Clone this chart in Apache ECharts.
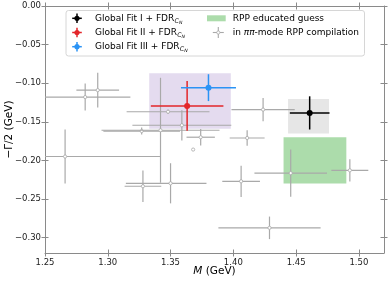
<!DOCTYPE html>
<html>
<head>
<meta charset="utf-8">
<script src="https://cdn.jsdelivr.net/npm/echarts@6/dist/echarts.min.js"></script>
<style>html,body{margin:0;padding:0;background:#fff}#c{width:389px;height:281px}</style>
</head>
<body>
<div id="c"></div>
<script>
// ---- tick labels ----
const xTicks = [1.25, 1.30, 1.35, 1.40, 1.45, 1.50];
const yTicks = [0, -0.05, -0.10, -0.15, -0.20, -0.25, -0.30];

// ---- RPP compilation (pi pi mode) points: M, -Gamma/2, errors ----
const grayM      = [1.282, 1.292, 1.348, 1.327, 1.342, 1.359, 1.266, 1.328, 1.350, 1.374, 1.411, 1.368, 1.4237, 1.4457, 1.4928, 1.4062, 1.4288];
const grayG      = [-0.118, -0.109, -0.137, -0.162, -0.161, -0.1545, -0.195, -0.2335, -0.2297, -0.170, -0.171, -0.186, -0.1342, -0.2165, -0.2129, -0.2271, -0.2874];
const grayMErrLo = [0.036, 0.017, 0.033, 0.0305, 0.047, 0.0394, 0.0756, 0.0146, 0.0356, 0.0113, 0.0139, 0, 0.0252, 0.0289, 0.0147, 0.015, 0.0407];
const grayMErrHi = [0.036, 0.017, 0.033, 0.0305, 0.047, 0.0394, 0.0756, 0.0146, 0.0286, 0.0113, 0.0139, 0, 0.0252, 0.0289, 0.0147, 0.015, 0.0407];
const grayGErr   = [0.0175, 0.0225, 0.003, 0.0045, 0.068, 0.0196, 0.035, 0.0205, 0.026, 0.0108, 0.0101, 0, 0.0151, 0.0305, 0.0145, 0.0202, 0.0146];

// ---- Global fits ----
const fitNames = ['Global Fit I + FDR', 'Global Fit II + FDR', 'Global Fit III + FDR'];
const fitM     = [1.4608, 1.3632, 1.3802];
const fitG     = [-0.1385, -0.1294, -0.1058];
const fitMErr  = [0.0158, 0.0289, 0.0219];
const fitGErr  = [0.0215, 0.0323, 0.0174];

// ---- shaded boxes: [Mmin, Mmax, Gmin, Gmax] ----
const boxMMin = [1.333, 1.4436, 1.44];
const boxMMax = [1.398, 1.4762, 1.49];
const boxGMin = [-0.159, -0.1652, -0.23];
const boxGMax = [-0.087, -0.1204, -0.17];

const FONT = 'DejaVu Sans';
const fitColors = ['#000000', '#e3262a', '#2b93f5'];
const boxColors = ['rgba(205,190,225,0.55)', '#e6e6e6', '#acdcab'];
const grayCol = '#a9a9a9';

const chart = echarts.init(document.getElementById('c'), null, {renderer: 'canvas'});

function fmt(v) {
  const s = Math.abs(v).toFixed(2);
  return v < -1e-9 ? '\u2212' + s : s;
}

const AXC = '#8a8a8a';
function xAx(pos, inside, main) {
  return {
    type: 'value', position: pos, min: 1.25, max: 1.52,
    axisLine: {show: !inside, onZero: false, lineStyle: {color: AXC, width: 1}},
    axisTick: {show: true, inside: inside, length: 3.5, customValues: xTicks, lineStyle: {color: AXC, width: 1}},
    axisLabel: {show: main, customValues: xTicks, formatter: fmt, fontSize: 8.5, fontFamily: FONT, color: '#222', margin: 5},
    splitLine: {show: false}
  };
}
function yAx(pos, inside, main) {
  return {
    type: 'value', position: pos, min: -0.32, max: 0,
    axisLine: {show: !inside, onZero: false, lineStyle: {color: AXC, width: 1}},
    axisTick: {show: true, inside: inside, length: 3.5, customValues: yTicks, lineStyle: {color: AXC, width: 1}},
    axisLabel: {show: main, customValues: yTicks, formatter: fmt, fontSize: 8.5, fontFamily: FONT, color: '#222', margin: 4},
    splitLine: {show: false}
  };
}

function clampX(v, cs) { return Math.max(cs.x, Math.min(cs.x + cs.width, v)); }
function clampY(v, cs) { return Math.max(cs.y, Math.min(cs.y + cs.height, v)); }

function errRender(color, lw, r, filled) {
  return function (params, api) {
    const cs = params.coordSys;
    const x = api.value(0), y = api.value(1);
    const xl = api.value(2), xh = api.value(3), ye = api.value(4);
    const c = api.coord([x, y]);
    const l = api.coord([x - xl, y]), rr = api.coord([x + xh, y]);
    const t = api.coord([x, y + ye]), b = api.coord([x, y - ye]);
    const ch = [];
    if (xl + xh > 0) ch.push({type: 'line', shape: {x1: clampX(l[0], cs), y1: c[1], x2: clampX(rr[0], cs), y2: c[1]}, style: {stroke: color, lineWidth: lw}});
    if (ye > 0) ch.push({type: 'line', shape: {x1: c[0], y1: clampY(t[1], cs), x2: c[0], y2: clampY(b[1], cs)}, style: {stroke: color, lineWidth: lw}});
    ch.push({type: 'circle', shape: {cx: c[0], cy: c[1], r: r}, style: filled ? {fill: color} : {fill: '#fff', stroke: color, lineWidth: 0.8}});
    return {type: 'group', children: ch};
  };
}

const grayData = grayM.map((m, i) => [m, grayG[i], grayMErrLo[i], grayMErrHi[i], grayGErr[i]]);
const boxData = boxMMin.map((m, i) => [m, boxMMax[i], boxGMin[i], boxGMax[i]]);

const series = [];
series.push({
  type: 'custom', xAxisIndex: 0, yAxisIndex: 0, z: 1, silent: true,
  data: boxData,
  renderItem: function (params, api) {
    const p1 = api.coord([api.value(0), api.value(3)]);
    const p2 = api.coord([api.value(1), api.value(2)]);
    return {type: 'rect', shape: {x: p1[0], y: p1[1], width: p2[0] - p1[0], height: p2[1] - p1[1]}, style: {fill: boxColors[params.dataIndex]}};
  }
});
series.push({
  type: 'custom', xAxisIndex: 0, yAxisIndex: 0, z: 2, silent: true,
  data: grayData,
  renderItem: errRender(grayCol, 1.2, 1.6, false)
});
fitM.forEach((m, i) => {
  series.push({
    type: 'custom', xAxisIndex: 0, yAxisIndex: 0, z: 3 + i, silent: true,
    data: [[m, fitG[i], fitMErr[i], fitMErr[i], fitGErr[i]]],
    renderItem: errRender(fitColors[i], 1.5, 3, true)
  });
});

// ---- text measurement ----
const mctx = document.createElement('canvas').getContext('2d');
function tw(text, size, italic) {
  mctx.font = (italic ? 'italic ' : '') + size + 'px "' + FONT + '"';
  return mctx.measureText(text).width;
}
function textEl(text, x, y, size, italic, extra) {
  return Object.assign({
    type: 'text', x: x, y: y, z: 100,
    style: {text: text, fontSize: size, fontFamily: FONT, fontStyle: italic ? 'italic' : 'normal', fill: '#000', align: 'left', verticalAlign: 'middle'}
  }, extra || {});
}

const graphic = [];
// legend frame
graphic.push({type: 'rect', z: 90, shape: {x: 66, y: 10.5, width: 298.5, height: 45.5, r: 2.5}, style: {fill: 'rgba(255,255,255,0.85)', stroke: '#d6d6d6', lineWidth: 1}});
const rowY = [18.3, 32.5, 46.7];
fitNames.forEach((name, i) => {
  const cx = 77, cy = rowY[i], a = 4.8;
  graphic.push({type: 'line', z: 100, shape: {x1: cx - a, y1: cy, x2: cx + a, y2: cy}, style: {stroke: fitColors[i], lineWidth: 1.5}});
  graphic.push({type: 'line', z: 100, shape: {x1: cx, y1: cy - a, x2: cx, y2: cy + a}, style: {stroke: fitColors[i], lineWidth: 1.5}});
  graphic.push({type: 'circle', z: 101, shape: {cx: cx, cy: cy, r: 2.6}, style: {fill: fitColors[i]}});
  let x = 95;
  graphic.push(textEl(name, x, cy, 9, false));
  x += tw(name, 9, false);
  graphic.push(textEl('C', x + 0.3, cy + 2.6, 6.3, true));
  x += tw('C', 6.3, true) + 0.3;
  graphic.push(textEl('N', x, cy + 4.2, 4.6, true));
});
// RPP educated guess
graphic.push({type: 'rect', z: 100, shape: {x: 207, y: 15.3, width: 18.7, height: 6}, style: {fill: boxColors[2]}});
graphic.push(textEl('RPP educated guess', 232.7, 18.3, 9, false));
// compilation entry
(function () {
  const cx = 218.3, cy = 32.5, a = 5.5;
  graphic.push({type: 'line', z: 100, shape: {x1: cx - a, y1: cy, x2: cx + a, y2: cy}, style: {stroke: grayCol, lineWidth: 1.1}});
  graphic.push({type: 'line', z: 100, shape: {x1: cx, y1: cy - a, x2: cx, y2: cy + a}, style: {stroke: grayCol, lineWidth: 1.1}});
  graphic.push({type: 'circle', z: 101, shape: {cx: cx, cy: cy, r: 1.6}, style: {fill: '#fff', stroke: grayCol, lineWidth: 0.8}});
  let x = 232.7;
  graphic.push(textEl('in ', x, cy, 9, false)); x += tw('in ', 9, false);
  graphic.push(textEl('\u03c0\u03c0', x, cy, 9, true)); x += tw('\u03c0\u03c0', 9, true);
  graphic.push(textEl('-mode RPP compilation', x, cy, 9, false));
})();
// axis titles
(function () {
  const w1 = tw('M', 10.5, true), w2 = tw(' (GeV)', 10.5, false);
  const x0 = 214.5 - (w1 + w2) / 2;
  graphic.push(textEl('M', x0, 271.5, 10.5, true));
  graphic.push(textEl(' (GeV)', x0 + w1, 271.5, 10.5, false));
})();
graphic.push({
  type: 'text', x: 9, y: 129.5, rotation: Math.PI / 2, z: 100,
  style: {text: '\u2212\u0393/2 (GeV)', fontSize: 10.5, fontFamily: FONT, fill: '#000', align: 'center', verticalAlign: 'middle'}
});

chart.setOption({
  animation: false,
  backgroundColor: '#fff',
  textStyle: {fontFamily: FONT},
  grid: {left: 45, right: 5, top: 6, bottom: 28, containLabel: false},
  xAxis: [xAx('bottom', false, true), xAx('bottom', true, false), xAx('top', false, false), xAx('top', true, false)],
  yAxis: [yAx('left', false, true), yAx('left', true, false), yAx('right', false, false), yAx('right', true, false)],
  series: series,
  graphic: graphic
});
</script>
</body>
</html>
